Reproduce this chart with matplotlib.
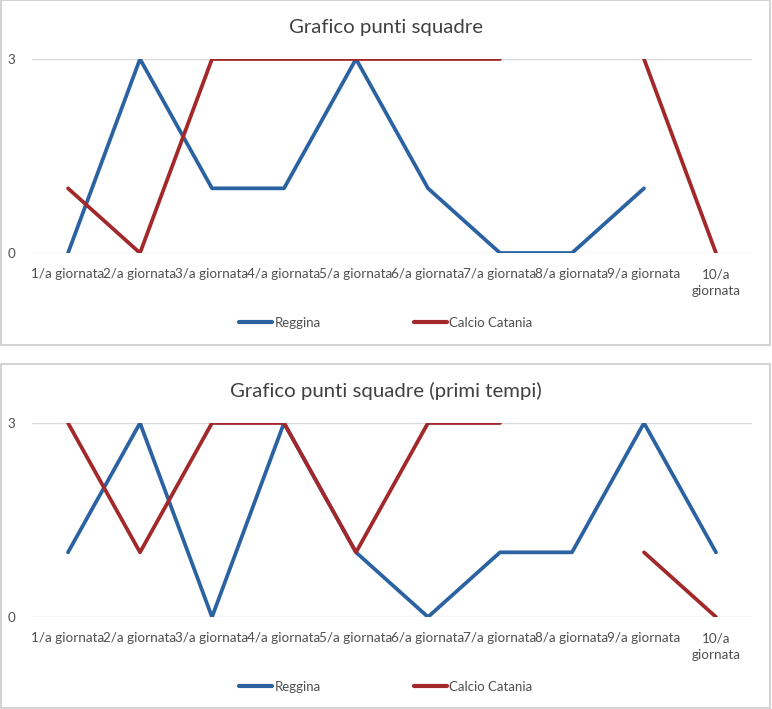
import numpy as np
import matplotlib
matplotlib.use("Agg")
import matplotlib.pyplot as plt
from matplotlib.patches import Rectangle

plt.rcParams['font.family'] = ['Lato', 'DejaVu Sans']

categories = ["1/a giornata", "2/a giornata", "3/a giornata", "4/a giornata", "5/a giornata",
              "6/a giornata", "7/a giornata", "8/a giornata", "9/a giornata", "10/a giornata"]
series_names = ["Reggina", "Calcio Catania"]

title1 = "Grafico punti squadre"
reggina1 = [0, 3, 1, 1, 3, 1, 0, 0, 1, None]
catania1 = [1, 0, 3, 3, 3, 3, 3, None, 3, 0]

title2 = "Grafico punti squadre (primi tempi)"
reggina2 = [1, 3, 0, 3, 1, 0, 1, 1, 3, 1]
catania2 = [3, 1, 3, 3, 1, 3, 3, None, 1, 0]

yticks = [0, 3]

W, H = 772, 709
fig = plt.figure(figsize=(W / 100, H / 100), dpi=100)
fig.patch.set_facecolor('white')

BLUE = '#2B62A1'
RED = '#A2282A'
TXT = '#4F4F4F'
GRID = '#D9D9D9'

def to_arr(v):
    return np.array([np.nan if x is None else x for x in v], dtype=float)

def draw_chart(top_px, bottom_px, title, reg, cat):
    # frame
    fig.add_artist(Rectangle((1 / W, 1 - bottom_px / H), (W - 3) / W, (bottom_px - top_px) / H,
                             transform=fig.transFigure, fill=False, edgecolor='#D0D0D0', lw=1.3))
    ax_top = top_px + 59
    ax_bot = top_px + 253
    ax = fig.add_axes([32 / W, 1 - ax_bot / H, 720 / W, (ax_bot - ax_top) / H])
    x = np.arange(len(categories))
    ax.plot(x, to_arr(reg), color=BLUE, lw=2.7, label=series_names[0], solid_capstyle='round')
    ax.plot(x, to_arr(cat), color=RED, lw=2.7, label=series_names[1], solid_capstyle='round')
    ax.set_xlim(-0.5, len(categories) - 0.5)
    ax.set_ylim(0, 3)
    ax.set_yticks(yticks)
    ax.set_yticklabels([str(t) for t in yticks])
    for t in yticks:
        ax.axhline(t, color=GRID, lw=1, zorder=0)
    ax.set_xticks(x)
    labels = [c if len(c) <= 12 else c.replace(' ', '\n') for c in categories]
    ax.set_xticklabels(labels, fontsize=9.7, color=TXT, linespacing=1.45)
    ax.tick_params(axis='both', length=0, colors=TXT)
    ax.tick_params(axis='x', pad=11)
    ax.tick_params(axis='y', pad=12, labelsize=9.7)
    for s in ax.spines.values():
        s.set_visible(False)
    ax.patch.set_alpha(0)
    fig.text(0.5, 1 - (top_px + 27) / H, title, ha='center', va='center', fontsize=14.7, color='#404040')
    leg = ax.legend(loc='center', bbox_to_anchor=(0.5, 1 - (top_px + 323) / H), bbox_transform=fig.transFigure,
                    ncol=2, frameon=False, fontsize=9.5, handlelength=2.5, handletextpad=0.2,
                    columnspacing=7.0)
    for t in leg.get_texts():
        t.set_color(TXT)
    for l in leg.get_lines():
        l.set_linewidth(3)

draw_chart(0, 345, title1, reggina1, catania1)
draw_chart(364, 708, title2, reggina2, catania2)

fig.savefig('out.png', dpi=100, facecolor='white')
